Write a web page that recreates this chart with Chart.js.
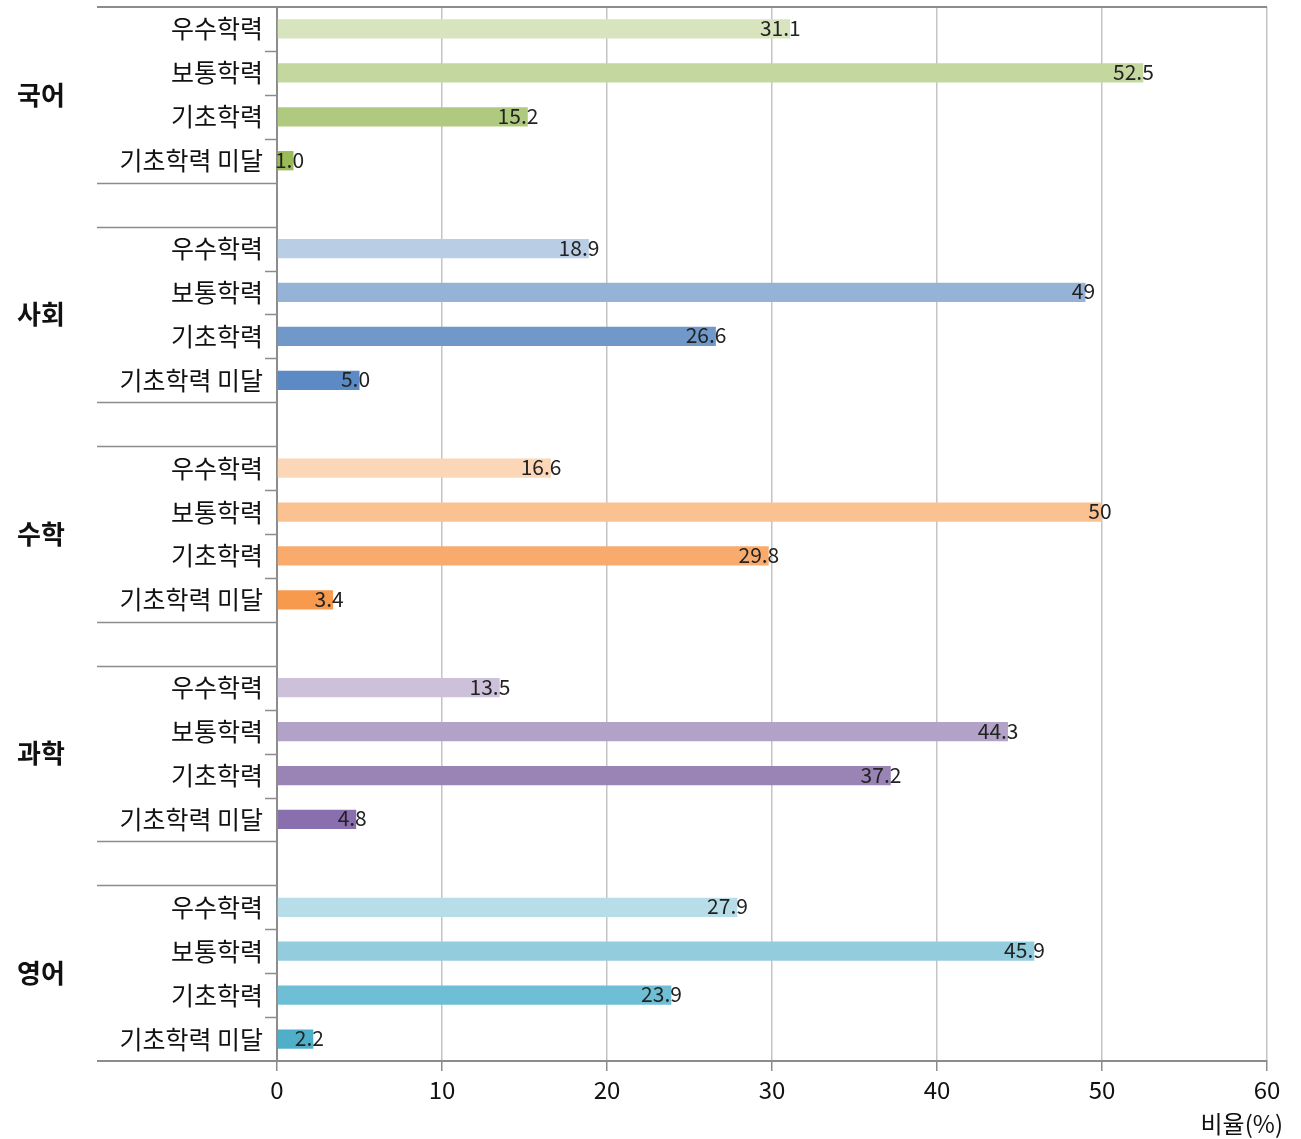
<!DOCTYPE html>
<html>
<head>
<meta charset="utf-8">
<script src="https://cdn.jsdelivr.net/npm/chart.js@4"></script>
<style>
  html, body { margin: 0; padding: 0; background: #fff; }
  #wrap { width: 1301px; height: 1139px; }
</style>
</head>
<body>
<div id="wrap"><canvas id="levelChart" width="1301" height="1139"></canvas></div>
<script>
const subjects = ['국어', '사회', '수학', '과학', '영어'];
const levels = ['우수학력', '보통학력', '기초학력', '기초학력 미달'];
const koreanValues = [31.1, 52.5, 15.2, 1.0];
const socialValues = [18.9, 49, 26.6, 5.0];
const mathValues = [16.6, 50, 29.8, 3.4];
const scienceValues = [13.5, 44.3, 37.2, 4.8];
const englishValues = [27.9, 45.9, 23.9, 2.2];
const xTicks = [0, 10, 20, 30, 40, 50, 60];
const xTitle = '비율(%)';

const subjectColors = [
  ['#d7e4bd', '#c4d79f', '#afca7f', '#9bbb59'],
  ['#b9cde5', '#95b3d7', '#7099c9', '#5b8ac5'],
  ['#fbd6b7', '#fac291', '#f8ab6c', '#f79a4e'],
  ['#ccc0da', '#b2a2c7', '#9a84b6', '#8a6fae'],
  ['#b7dee8', '#93cddd', '#6ebfd5', '#4fafc8']
];

const FONT = '"Noto Sans CJK KR", "Noto Sans", sans-serif';

// build the slot list: 4 levels per subject, a blank slot between groups
const allValues = [koreanValues, socialValues, mathValues, scienceValues, englishValues];
const labels = [];
const values = [];
const colors = [];
const groupOf = [];
allValues.forEach((vals, g) => {
  if (g > 0) {
    labels.push('');
    values.push(null);
    colors.push('rgba(0,0,0,0)');
    groupOf.push(-1);
  }
  vals.forEach((v, i) => {
    labels.push(levels[i]);
    values.push(v);
    colors.push(subjectColors[g][i]);
    groupOf.push(g);
  });
});

function formatValue(v) {
  return v < 10 ? v.toFixed(1) : String(v);
}

const decorPlugin = {
  id: 'decor',
  afterDraw(chart) {
    const ctx = chart.ctx;
    const area = chart.chartArea;
    const y = chart.scales.y;
    const outerLeft = 97;
    ctx.save();
    ctx.strokeStyle = '#8c8c8c';
    ctx.lineWidth = 2;
    // top and bottom frame lines reaching into the label column
    ctx.beginPath();
    ctx.moveTo(outerLeft, area.top);
    ctx.lineTo(area.right, area.top);
    ctx.moveTo(outerLeft, area.bottom);
    ctx.lineTo(area.left, area.bottom);
    ctx.stroke();
    // category separators
    ctx.lineWidth = 1.5;
    for (let i = 0; i < labels.length - 1; i++) {
      const yy = Math.round((y.getPixelForValue(i) + y.getPixelForValue(i + 1)) / 2) + 0.5;
      const isGroupEdge = groupOf[i] === -1 || groupOf[i + 1] === -1;
      ctx.beginPath();
      ctx.moveTo(isGroupEdge ? outerLeft : area.left - 12, yy);
      ctx.lineTo(area.left, yy);
      ctx.stroke();
    }
    // subject names
    ctx.fillStyle = '#111';
    ctx.font = 'bold 26px ' + FONT;
    ctx.textAlign = 'center';
    ctx.textBaseline = 'middle';
    subjects.forEach((s, g) => {
      const first = g * 5;
      const cy = (y.getPixelForValue(first + 1) + y.getPixelForValue(first + 2)) / 2;
      ctx.fillText(s, 41, cy);
    });
    // axis title
    ctx.font = '24px ' + FONT;
    ctx.textAlign = 'right';
    ctx.fillText(xTitle, 1283, 1124);
    // value labels around the bar ends
    const meta = chart.getDatasetMeta(0);
    ctx.font = '21px ' + FONT;
    ctx.fillStyle = '#222';
    ctx.textAlign = 'left';
    meta.data.forEach((bar, i) => {
      const v = values[i];
      if (v === null) return;
      const txt = formatValue(v);
      const dot = txt.indexOf('.');
      let left;
      if (dot >= 0) {
        const intW = ctx.measureText(txt.slice(0, dot)).width;
        const dotW = ctx.measureText('.').width;
        left = bar.x - 4 - intW - dotW / 2;
      } else {
        left = bar.x - 2 - ctx.measureText(txt).width / 2;
      }
      ctx.fillText(txt, left, bar.y - 1);
    });
    ctx.restore();
  }
};

new Chart(document.getElementById('levelChart'), {
  type: 'bar',
  data: {
    labels: labels,
    datasets: [{
      data: values,
      backgroundColor: colors,
      barPercentage: 0.44,
      categoryPercentage: 1
    }]
  },
  options: {
    indexAxis: 'y',
    responsive: false,
    animation: false,
    layout: { padding: { top: 7, right: 34, left: 0, bottom: 0 } },
    plugins: { legend: { display: false }, tooltip: { enabled: false } },
    scales: {
      x: {
        min: 0,
        max: 60,
        afterBuildTicks: (scale) => { scale.ticks = xTicks.map(v => ({ value: v })); },
        afterFit: (scale) => { scale.height = 78; scale.paddingRight = 0; scale.paddingLeft = 0; },
        grid: { color: '#c4c4c4', lineWidth: 1.5, drawTicks: true, tickLength: 10, tickColor: '#8c8c8c' },
        border: { display: true, color: '#8c8c8c', width: 2 },
        ticks: { color: '#111', font: { family: FONT, size: 24 }, padding: 4 }
      },
      y: {
        offset: true,
        afterFit: (scale) => { scale.width = 277; scale.paddingTop = 0; scale.paddingBottom = 0; },
        grid: { display: false },
        border: { display: true, color: '#8c8c8c', width: 2 },
        ticks: { color: '#111', font: { family: FONT, size: 25 }, padding: 6, autoSkip: false }
      }
    }
  },
  plugins: [decorPlugin]
});
</script>
</body>
</html>
